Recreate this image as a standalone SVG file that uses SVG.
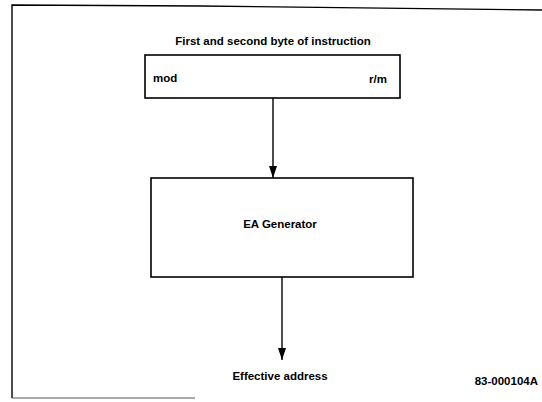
<svg xmlns="http://www.w3.org/2000/svg" width="542" height="402" viewBox="0 0 542 402">
<style>
.t{font-family:"Liberation Sans",Arial,sans-serif;font-weight:bold;font-size:11.5px;fill:#000}
.box{fill:#fff;stroke:#000;stroke-width:1.6}
.ln{stroke:#000;stroke-width:1.4;fill:none}
</style>
<defs>
<marker id="ah" markerWidth="12" markerHeight="8" refX="12" refY="4" orient="auto" markerUnits="userSpaceOnUse" viewBox="0 0 12 8">
<path d="M0,0 L12,4 L0,8 Z" fill="#000"/>
</marker>
</defs>
<rect width="542" height="402" fill="#fff"/>
<g id="frame">
<polyline class="ln" points="12,398 12,5 200,6 542,10"/>
<line x1="12" y1="398" x2="195" y2="398" stroke="#555" stroke-width="1.2"/>
</g>
<g id="title"><text class="t" x="273" y="45" text-anchor="middle" font-size="12.5">First and second byte of instruction</text></g>
<g id="instr">
<rect class="box" x="145" y="55" width="255" height="43"/>
<text class="t" x="153" y="82">mod</text>
<text class="t" x="387" y="83" text-anchor="end">r/m</text>
</g>
<g id="eagen">
<rect class="box" x="151" y="178" width="262" height="99"/>
<text class="t" x="280" y="228" text-anchor="middle">EA Generator</text>
</g>
<g id="output"><text class="t" x="280" y="380" text-anchor="middle">Effective address</text></g>
<g id="figid"><text class="t" x="538" y="385" text-anchor="end">83-000104A</text></g>
<g id="connectors">
<line class="ln" x1="273" y1="98" x2="273" y2="178" marker-end="url(#ah)"/>
<line class="ln" x1="282" y1="277" x2="282" y2="360" marker-end="url(#ah)"/>
</g>
</svg>
